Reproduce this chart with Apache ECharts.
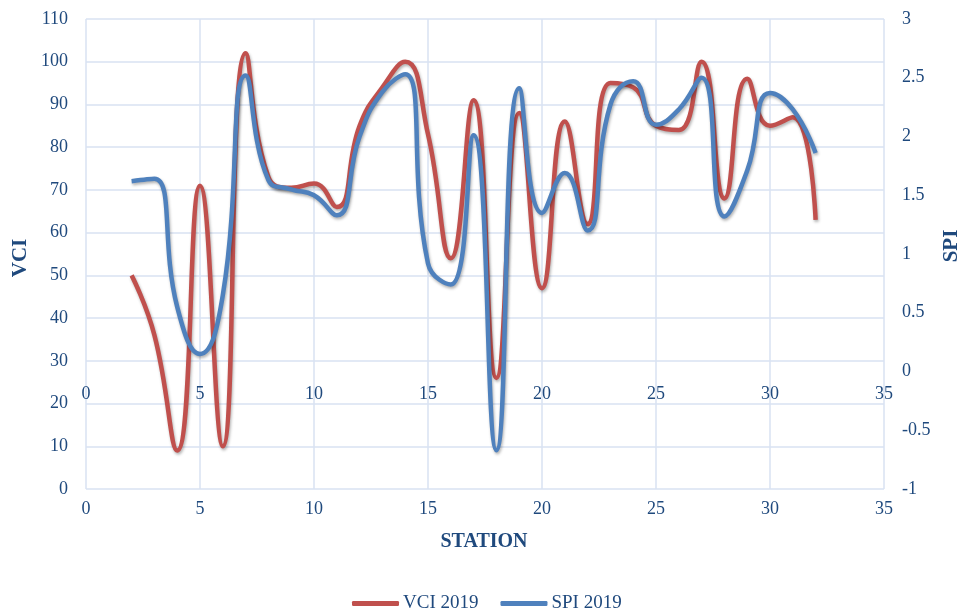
<!DOCTYPE html>
<html>
<head>
<meta charset="utf-8">
<script src="https://cdn.jsdelivr.net/npm/echarts@6/dist/echarts.min.js"></script>
<style>
html,body{margin:0;padding:0;background:#fff;}
#chart{width:971px;height:608px;}
</style>
</head>
<body>
<div id="chart"></div>
<script>
const stations = [2,3,4,5,6,7,8,9,10,11,12,13,14,15,16,17,18,19,20,21,22,23,24,25,26,27,28,29,30,31,32];
const vci2019 = [50,36,9,71,10,102,73,70.5,71.5,66,85,94,100,83,54,91,26,88,47,86,62,95,94,85,84,100,68,96,85,87,63];
const spi2019 = [1.62,1.64,0.55,0.15,0.65,2.52,1.63,1.55,1.50,1.33,2.0,2.38,2.53,0.92,0.74,2.01,-0.67,2.41,1.35,1.69,1.20,2.27,2.47,2.10,2.23,2.50,1.32,1.71,2.37,2.23,1.86];
const seriesNames = ['VCI 2019','SPI 2019'];
const xTitle = 'STATION';
const yLeftTitle = 'VCI';
const yRightTitle = 'SPI';

const txt = '#1F497D';
const gridCol = '#d9e2f2';
const font = 'Liberation Serif';
const chart = echarts.init(document.getElementById('chart'));
const gridH = 608 - 19 - 119;

const lineStyleBase = {width:4.5, shadowColor:'rgba(0,0,0,0.3)', shadowBlur:3, shadowOffsetY:2, shadowOffsetX:1};

chart.setOption({
  animation:false,
  backgroundColor:'#fff',
  textStyle:{fontFamily:font},
  grid:{left:86, right:87, top:19, bottom:119, containLabel:false},
  legend:{
    data:seriesNames.map(n=>({name:n, icon:'roundRect'})),
    left:347, top:589, itemWidth:47, itemHeight:5, itemGap:22,
    textStyle:{fontFamily:font, fontSize:19, color:txt, padding:[0,0,0,-1]}
  },
  xAxis:[
    {type:'value', min:0, max:35, interval:5, position:'bottom',
     axisLine:{show:false}, axisTick:{show:false},
     splitLine:{show:true, lineStyle:{color:gridCol, width:1.5}},
     axisLabel:{color:txt, fontSize:18, fontFamily:font, margin:11}},
    {type:'value', min:0, max:35, interval:5, position:'bottom', offset:-gridH*0.25,
     axisLine:{show:false, onZero:false}, axisTick:{show:false},
     splitLine:{show:false},
     axisLabel:{color:txt, fontSize:18, fontFamily:font, margin:14}}
  ],
  yAxis:[
    {type:'value', min:0, max:110, interval:10, position:'left',
     axisLine:{show:false, onZero:false}, axisTick:{show:false},
     splitLine:{show:true, lineStyle:{color:gridCol, width:1.5}},
     axisLabel:{color:txt, fontSize:18, fontFamily:font, margin:18}},
    {type:'value', min:-1, max:3, interval:0.5, position:'right',
     axisLine:{show:false, onZero:false}, axisTick:{show:false},
     splitLine:{show:false},
     axisLabel:{color:txt, fontSize:18, fontFamily:font, margin:18, align:'left'}}
  ],
  graphic:[
    {type:'text', style:{text:yLeftTitle, font:'bold 21px "Liberation Serif"', fill:txt, textAlign:'center', textVerticalAlign:'middle'}, x:21, y:258, rotation:Math.PI/2},
    {type:'text', style:{text:yRightTitle, font:'bold 21px "Liberation Serif"', fill:txt, textAlign:'center', textVerticalAlign:'middle'}, x:952, y:246, rotation:Math.PI/2},
    {type:'text', style:{text:xTitle, font:'bold 20px "Liberation Serif"', fill:txt, textAlign:'center', textVerticalAlign:'middle'}, x:484, y:542}
  ],
  series:[
    {name:seriesNames[0], type:'line', xAxisIndex:0, yAxisIndex:0, smooth:0.5, symbol:'none',
     data:stations.map((s,i)=>[s,vci2019[i]]),
     itemStyle:{color:'#c0504d'}, lineStyle:Object.assign({color:'#c0504d'}, lineStyleBase), z:2},
    {name:seriesNames[1], type:'line', xAxisIndex:0, yAxisIndex:1, smooth:0.5, symbol:'none',
     data:stations.map((s,i)=>[s,spi2019[i]]),
     itemStyle:{color:'#4f81bd'}, lineStyle:Object.assign({color:'#4f81bd'}, lineStyleBase), z:3}
  ]
});
</script>
</body>
</html>
